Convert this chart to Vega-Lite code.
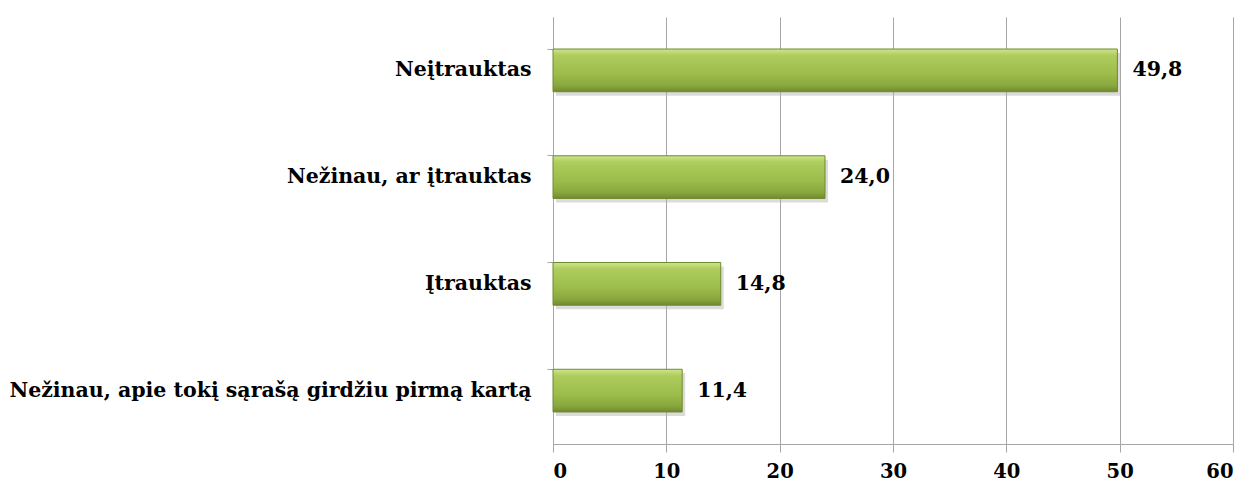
{
  "$schema": "https://vega.github.io/schema/vega-lite/v6.json",
  "width": 680,
  "height": 427,
  "autosize": "none",
  "padding": {"left": 553, "top": 17, "right": 15, "bottom": 43},
  "background": "white",
  "config": {
    "view": {"stroke": null},
    "locale": {"number": {"decimal": ",", "thousands": " ", "grouping": [3], "currency": ["", " €"]}}
  },
  "data": {
    "values": [
      {"answer": "Neįtrauktas", "value": 49.8},
      {"answer": "Nežinau, ar įtrauktas", "value": 24.0},
      {"answer": "Įtrauktas", "value": 14.8},
      {"answer": "Nežinau, apie tokį sąrašą girdžiu pirmą kartą", "value": 11.4}
    ]
  },
  "encoding": {
    "y": {
      "field": "answer",
      "type": "nominal",
      "sort": null,
      "scale": {"paddingInner": 0.6, "paddingOuter": 0.3},
      "axis": {
        "title": null,
        "bandPosition": 0,
        "domainColor": "#a6a6a6",
        "tickColor": "#a6a6a6",
        "tickSize": 6,
        "labelPadding": 16,
        "labelFont": "DejaVu Serif",
        "labelFontWeight": "bold",
        "labelFontSize": 20.5,
        "labelColor": "#000000",
        "labelLimit": 600
      }
    },
    "x": {
      "field": "value",
      "type": "quantitative",
      "scale": {"domain": [0, 60], "nice": false},
      "axis": {
        "title": null,
        "values": [0, 10, 20, 30, 40, 50, 60],
        "grid": true,
        "gridColor": "#a6a6a6",
        "gridWidth": 1,
        "domainColor": "#a6a6a6",
        "tickColor": "#a6a6a6",
        "tickSize": 8,
        "labelPadding": 10,
        "labelFont": "DejaVu Serif",
        "labelFontWeight": "bold",
        "labelFontSize": 19.5,
        "labelColor": "#000000"
      }
    }
  },
  "layer": [
    {
      "mark": {
        "type": "bar",
        "xOffset": 3,
        "yOffset": 4,
        "color": "#b0b0b0",
        "opacity": 0.45
      }
    },
    {
      "mark": {
        "type": "bar",
        "stroke": "#6f8a30",
        "strokeWidth": 1,
        "color": {
          "gradient": "linear",
          "x1": 0, "y1": 0, "x2": 0, "y2": 1,
          "stops": [
            {"offset": 0, "color": "#cfe58e"},
            {"offset": 0.15, "color": "#aecd5c"},
            {"offset": 0.6, "color": "#9bbb4a"},
            {"offset": 0.85, "color": "#8aa83e"},
            {"offset": 1, "color": "#6f8a30"}
          ]
        }
      }
    },
    {
      "mark": {
        "type": "text",
        "align": "left",
        "baseline": "middle",
        "dx": 15,
        "font": "DejaVu Serif",
        "fontWeight": "bold",
        "fontSize": 20.5,
        "color": "#000000"
      },
      "encoding": {
        "text": {"field": "value", "type": "quantitative", "format": ".1f"}
      }
    }
  ]
}
